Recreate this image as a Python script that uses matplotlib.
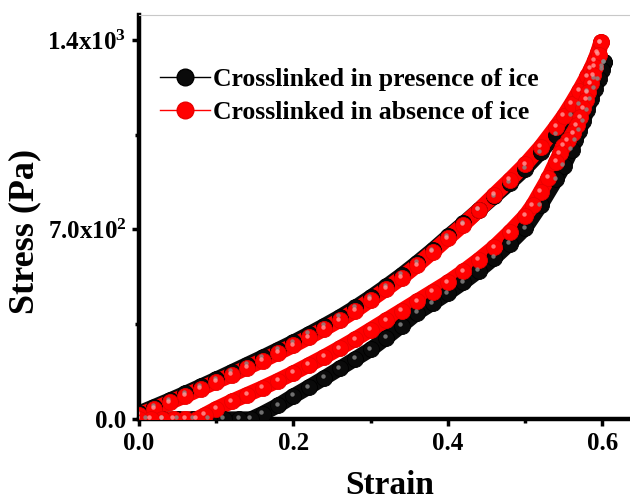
import matplotlib
matplotlib.use("Agg")
import matplotlib.pyplot as plt
import matplotlib.transforms as mtransforms
from matplotlib.lines import Line2D
from matplotlib.ticker import MultipleLocator

'''Values read off the picture (strain, stress in Pa)'''
# Crosslinked in presence of ice (black) - loading
blk_load_x = [0.00, 0.02, 0.04, 0.06, 0.08, 0.10, 0.12, 0.14, 0.16, 0.18, 0.20, 0.22, 0.24, 0.26, 0.28, 0.30,
              0.32, 0.34, 0.36, 0.38, 0.40, 0.42, 0.44, 0.46, 0.48, 0.50, 0.52, 0.54, 0.56, 0.57, 0.58, 0.59, 0.60, 0.602]
blk_load_y = [22, 46, 70, 95, 121, 147, 174, 201, 228, 256, 284, 314, 345, 377, 412, 450,
              490, 532, 577, 624, 674, 722, 772, 822, 872, 925, 985, 1050, 1120, 1162, 1208, 1258, 1300, 1318]
# black - unloading
blk_unl_x = [0.602, 0.600, 0.595, 0.590, 0.585, 0.580, 0.575, 0.570, 0.565, 0.560, 0.550, 0.540, 0.520,
             0.500, 0.480, 0.460, 0.440, 0.420, 0.400, 0.380, 0.360, 0.340, 0.320, 0.300, 0.280, 0.260, 0.240,
             0.220, 0.200, 0.180, 0.160, 0.145, 0.130, 0.110, 0.090, 0.070, 0.050, 0.030, 0.010, 0.000]
blk_unl_y = [1318, 1290, 1255, 1220, 1180, 1140, 1100, 1065, 1030, 995, 935, 885, 790,
             705, 648, 595, 548, 505, 465, 428, 392, 345, 300, 257, 222, 187, 152,
             118, 85, 50, 20, 0, 0, 0, 0, 0, 0, 0, 0, 0]

# Crosslinked in absence of ice (red) - loading
red_load_x = [0.00, 0.02, 0.04, 0.06, 0.08, 0.10, 0.12, 0.14, 0.16, 0.18, 0.20, 0.22, 0.24, 0.26, 0.28, 0.30,
              0.32, 0.34, 0.36, 0.38, 0.40, 0.42, 0.44, 0.46, 0.48, 0.50, 0.52, 0.54, 0.55, 0.56, 0.57, 0.58,
              0.585, 0.59, 0.594, 0.598]
red_load_y = [15, 38, 62, 86, 112, 138, 163, 190, 216, 244, 272, 302, 333, 365, 400, 440,
              480, 522, 568, 617, 668, 718, 772, 828, 883, 940, 1005, 1080, 1120, 1165, 1213, 1265,
              1293, 1325, 1355, 1392]
# red - unloading
red_unl_x = [0.598, 0.595, 0.590, 0.588, 0.585, 0.581, 0.579, 0.575, 0.571, 0.567, 0.562, 0.555, 0.549, 0.545,
             0.540, 0.530, 0.520, 0.510, 0.500, 0.480, 0.460, 0.440, 0.420, 0.400, 0.380, 0.360, 0.340, 0.320,
             0.300, 0.280, 0.260, 0.240, 0.220, 0.200, 0.180, 0.160, 0.140, 0.120, 0.100, 0.085, 0.075,
             0.060, 0.045, 0.030, 0.015, 0.000]
red_unl_y = [1392, 1345, 1300, 1270, 1240, 1207, 1178, 1148, 1115, 1085, 1055, 1030, 1010, 981,
             950, 890, 840, 790, 750, 690, 635, 588, 545, 505, 470, 435, 400, 365,
             330, 295, 262, 230, 200, 170, 142, 115, 90, 65, 38, 15, 0,
             0, 0, 0, 0, 0]

labels = ["Crosslinked in presence of ice", "Crosslinked in absence of ice"]
ytick_vals = [0, 700, 1400]
ytick_text = ["0.0", "7.0x10$^{2}$", "1.4x10$^{3}$"]
xtick_vals = [0.0, 0.2, 0.4, 0.6]

plt.rcParams["font.family"] = ["Liberation Serif", "DejaVu Serif"]
plt.rcParams["font.weight"] = "bold"
plt.rcParams["mathtext.fontset"] = "custom"
plt.rcParams["mathtext.rm"] = "Liberation Serif:bold"
plt.rcParams["mathtext.it"] = "Liberation Serif:bold"
plt.rcParams["mathtext.bf"] = "Liberation Serif:bold"

fig = plt.figure(figsize=(6.3, 5.04), dpi=100)
ax = fig.add_axes([139 / 630, 1 - 419 / 504, (630 - 139) / 630, (419 - 15) / 504])

hl = mtransforms.offset_copy(ax.transData, fig=fig, x=-1.1, y=1.1, units="points")


def draw_branch(xs, ys, base, edge, shine):
    ax.plot(xs, ys, color=base, lw=11, solid_capstyle="round", solid_joinstyle="round", zorder=2)
    ax.plot(xs, ys, ls="none", marker="o", ms=11.5, mfc=base, mec=edge, mew=0.6, zorder=3)
    ax.plot(xs, ys, ls="none", marker="o", ms=3.2, mfc=shine, mec="none", alpha=0.8,
            transform=hl, zorder=4)


draw_branch(blk_load_x, blk_load_y, "#0a0a0a", "#000000", "#8a8a8a")
draw_branch(blk_unl_x, blk_unl_y, "#0a0a0a", "#000000", "#8a8a8a")
draw_branch(red_load_x, red_load_y, "#ff0000", "#e80000", "#ff9a9a")
draw_branch(red_unl_x, red_unl_y, "#ff0000", "#e80000", "#ff9a9a")

ax.set_xlim(0, 0.6356)
ax.set_ylim(0, 1492)
ax.set_xticks(xtick_vals)
ax.set_xticklabels(["%.1f" % v for v in xtick_vals])
ax.set_yticks(ytick_vals)
ax.set_yticklabels(ytick_text)
ax.xaxis.set_minor_locator(MultipleLocator(0.1))
ax.yaxis.set_minor_locator(MultipleLocator(350))
ax.tick_params(which="major", direction="out", length=5, width=2.5, labelsize=18, pad=4)
ax.tick_params(which="minor", direction="out", length=3, width=2.5)
ax.tick_params(top=False, right=False, which="both")

for s in ["left", "bottom"]:
    ax.spines[s].set_linewidth(3.2)
ax.spines["right"].set_visible(False)
ax.spines["top"].set_linewidth(0.8)
ax.spines["top"].set_color("#c8c8c8")

ax.set_xlabel("Strain", fontsize=24, fontweight="bold")
ax.set_ylabel("Stress (Pa)", fontsize=26, fontweight="bold")
ax.xaxis.set_label_coords(0.511, -0.127)
ax.yaxis.set_label_coords(-0.198, 0.465)

handles = [
    Line2D([], [], color="black", lw=1, marker="o", ms=12, mfc="#0a0a0a", mec="black"),
    Line2D([], [], color="red", lw=1, marker="o", ms=12, mfc="#ff0000", mec="#e80000"),
]
ax.legend(handles, labels, loc="upper left", bbox_to_anchor=(0.022, 0.895), frameon=False,
          handlelength=1.95, handletextpad=0.12, labelspacing=0.42,
          borderaxespad=0.0, prop={"weight": "bold", "size": 18.5})

fig.savefig("out.png", dpi=100)
